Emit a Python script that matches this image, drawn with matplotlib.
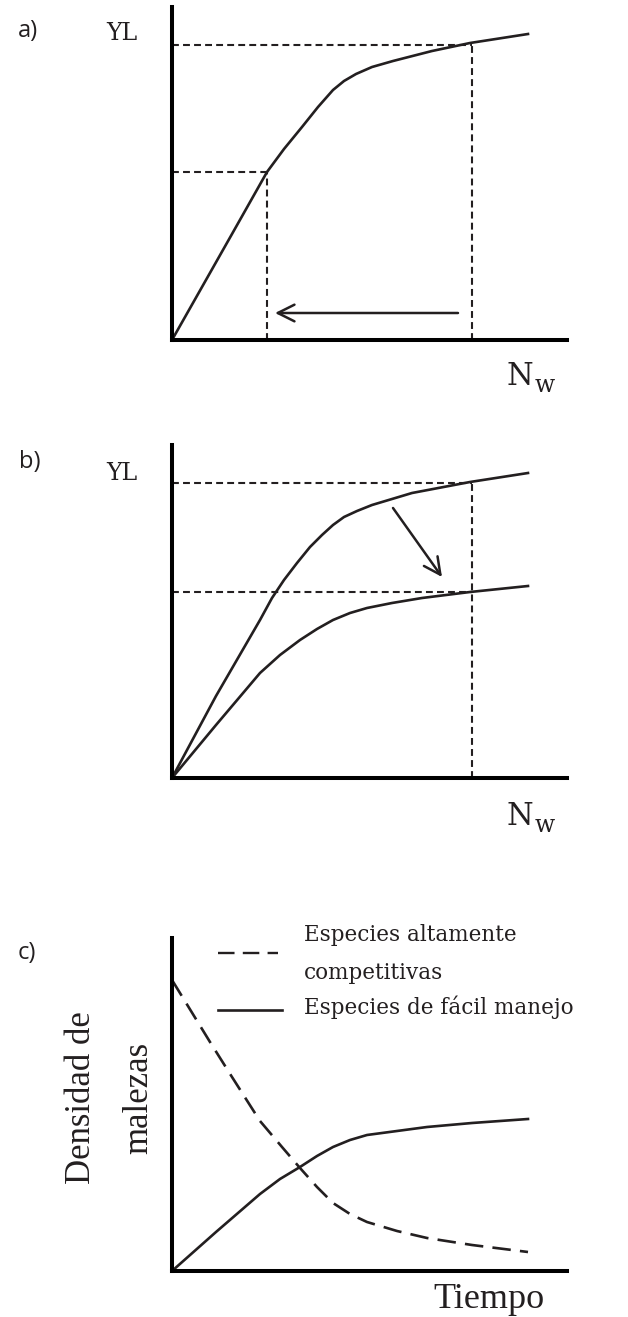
import matplotlib
matplotlib.use("Agg")
import matplotlib.pyplot as plt

W, H = 628, 1317

# --- datos (x = densidad / tiempo, y = perdida / densidad) ---
a_x = [0, 30, 60, 95, 112, 130, 146, 161, 172, 184, 200, 221, 260, 298, 356]
a_y = [0, 53, 106, 168, 191, 213, 233, 250, 259, 266, 273, 279, 289, 297, 306]

b_alto_x = [0, 44, 88, 100, 112, 125, 138, 150, 161, 172, 185, 200, 240, 298, 356]
b_alto_y = [0, 82, 158, 180, 198, 215, 231, 243, 253, 261, 267, 273, 285, 296, 305]
b_bajo_x = [0, 44, 88, 108, 128, 145, 161, 178, 195, 220, 250, 298, 356]
b_bajo_y = [0, 53, 105, 123, 138, 149, 158, 165, 170, 175, 180, 186, 192]

c_comp_x = [0, 38, 60, 88, 110, 128, 145, 161, 178, 195, 225, 255, 300, 356]
c_comp_y = [291, 229, 194, 150, 124, 103, 84, 68, 57, 49, 40, 33, 26, 19]
c_facil_x = [0, 44, 88, 108, 128, 145, 161, 178, 195, 225, 255, 300, 356]
c_facil_y = [0, 39, 77, 92, 104, 115, 124, 131, 136, 140, 144, 148, 152]

# lineas de referencia
a_ref_x = [95, 300]
a_ref_y = [168, 295]
b_ref_x = 300
b_ref_y = [295, 186]

XMAX, YMAX = 395, 333
SERIF = "DejaVu Serif"
TIMES = "Liberation Serif"
SANS = "Open Sans"
INK = "#231f20"

fig = plt.figure(figsize=(W / 100, H / 100), dpi=100)


def px(x, y):
    """pixeles (desde arriba a la izquierda) -> fraccion de figura"""
    return x / W, 1 - y / H


def nuevo_eje(top):
    left, bottom = px(172, top + YMAX)
    ax = fig.add_axes([left, bottom, XMAX / W, YMAX / H])
    ax.set_xlim(0, XMAX)
    ax.set_ylim(0, YMAX)
    ax.set_xticks([])
    ax.set_yticks([])
    for s in ("top", "right"):
        ax.spines[s].set_visible(False)
    for s in ("left", "bottom"):
        ax.spines[s].set_linewidth(2.9)
        ax.spines[s].set_capstyle("projecting")
    ax.patch.set_alpha(0)
    return ax


def curva(ax, xs, ys, **kw):
    ax.plot(xs, ys, color=INK, lw=1.9, clip_on=False,
            solid_joinstyle="round", dash_joinstyle="round", **kw)


def discontinua(ax, xs, ys):
    ax.plot(xs, ys, color=INK, lw=1.5, dashes=(3.3, 2.0), clip_on=False)


def etiqueta_nw(top):
    fig.text(*px(507, top + 385), "N", fontsize=22, family=SERIF,
             ha="left", va="baseline", color=INK)
    fig.text(*px(535, top + 392), "w", fontsize=17, family=SERIF,
             ha="left", va="baseline", color=INK)


flecha = dict(arrowstyle="->,head_length=0.6,head_width=0.3",
              color=INK, lw=1.8, mutation_scale=20,
              shrinkA=0, shrinkB=0)

# ---------------- a) ----------------
ax = nuevo_eje(7)
for xr, yr in zip(a_ref_x, a_ref_y):
    discontinua(ax, [0, xr], [yr, yr])
    discontinua(ax, [xr, xr], [0, yr])
curva(ax, a_x, a_y)
ax.annotate("", xy=(103, 27), xytext=(286, 27), arrowprops=flecha)

fig.text(*px(28, 31), "a)", fontsize=17, family=SANS, ha="center",
         va="center", color=INK)
fig.text(*px(122, 40), "YL", fontsize=17, family=SERIF, ha="center",
         va="baseline", color=INK)
etiqueta_nw(0)

# ---------------- b) ----------------
ax = nuevo_eje(445)
for yr in b_ref_y:
    discontinua(ax, [0, b_ref_x], [yr, yr])
discontinua(ax, [b_ref_x, b_ref_x], [0, max(b_ref_y)])
curva(ax, b_alto_x, b_alto_y)
curva(ax, b_bajo_x, b_bajo_y)
ax.annotate("", xy=(270, 201), xytext=(221, 270), arrowprops=flecha)

fig.text(*px(30, 462), "b)", fontsize=17, family=SANS, ha="center",
         va="center", color=INK)
fig.text(*px(122, 480), "YL", fontsize=17, family=SERIF, ha="center",
         va="baseline", color=INK)
etiqueta_nw(440)

# ---------------- c) ----------------
ax = nuevo_eje(938)
curva(ax, c_comp_x, c_comp_y, dashes=(7.0, 3.5))
curva(ax, c_facil_x, c_facil_y)

# leyenda dibujada a mano
ax.plot([46, 106], [1271 - 953] * 2, color=INK, lw=1.7,
        dashes=(7.0, 3.5), clip_on=False)
ax.plot([46, 110], [1271 - 1010] * 2, color=INK, lw=1.9, clip_on=False)
for texto, base in [("Especies altamente", 941), ("competitivas", 979),
                    ("Especies de fácil manejo", 1014)]:
    fig.text(*px(304, base), texto, fontsize=15.5, family=SERIF,
             ha="left", va="baseline", color=INK)

fig.text(*px(27, 953), "c)", fontsize=17, family=SANS, ha="center",
         va="center", color=INK)
fig.text(*px(90, 1098), "Densidad de", fontsize=25, family=TIMES,
         rotation=90, rotation_mode="anchor", ha="center", va="baseline",
         color=INK)
fig.text(*px(147, 1098), "malezas", fontsize=25, family=TIMES,
         rotation=90, rotation_mode="anchor", ha="center", va="baseline",
         color=INK)
fig.text(*px(433, 1308), "Tiempo", fontsize=26, family=TIMES,
         ha="left", va="baseline", color=INK)

fig.savefig("out.png", dpi=100, facecolor="white")
